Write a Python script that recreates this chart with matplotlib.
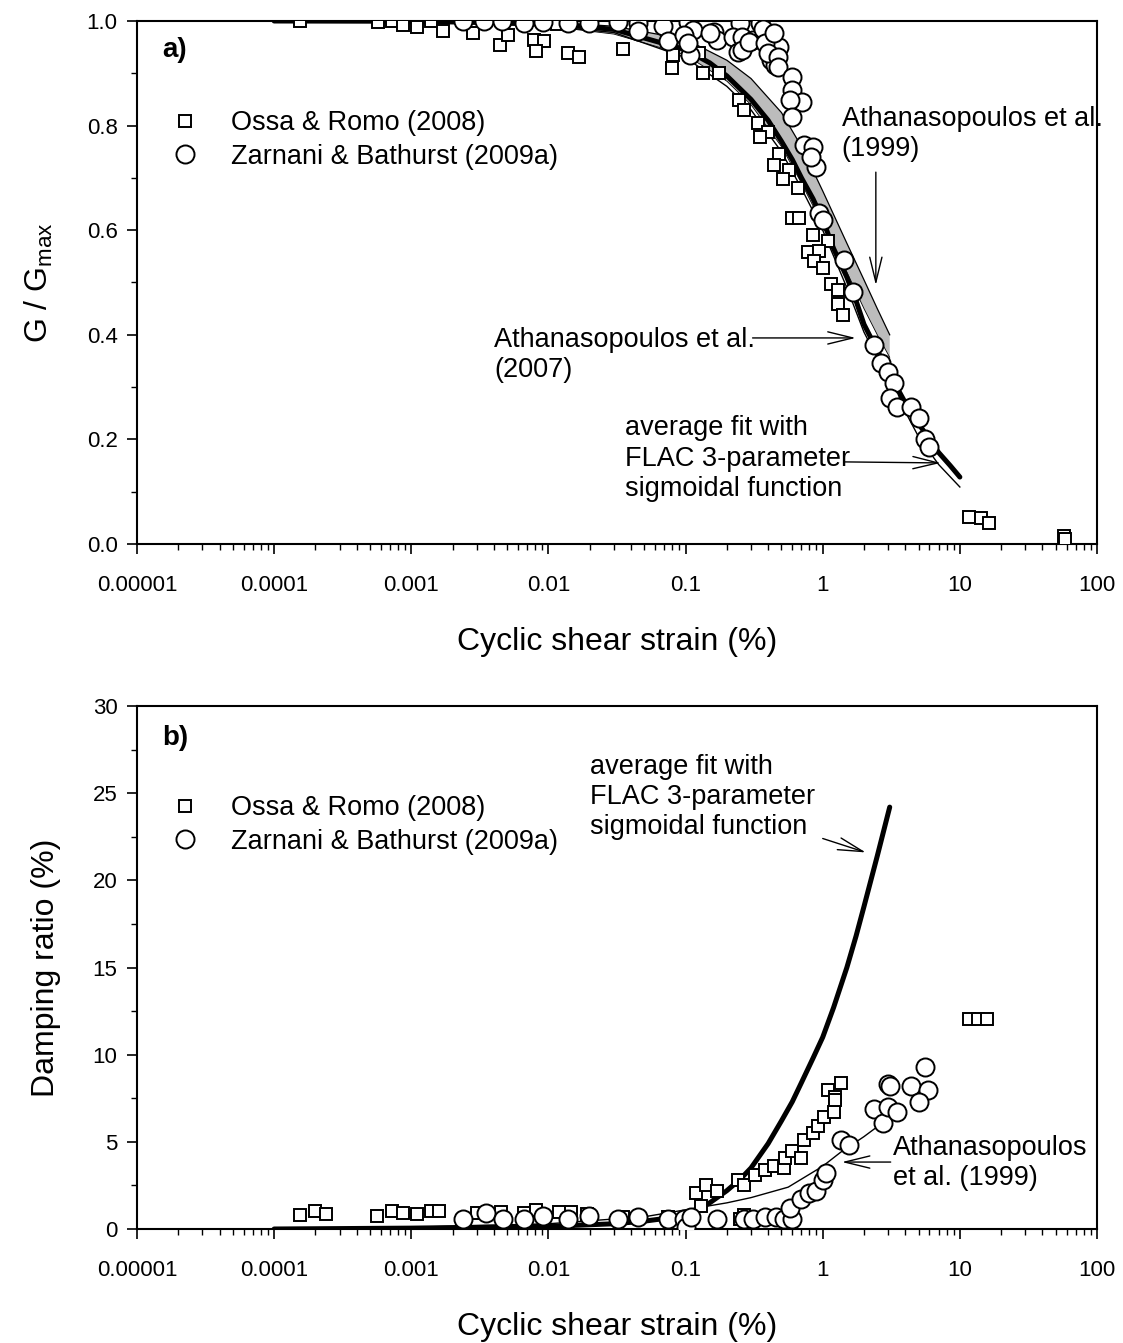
import numpy as np
import matplotlib
matplotlib.use('Agg')
import matplotlib.pyplot as plt
from matplotlib.ticker import LogLocator, FixedLocator, FixedFormatter, MultipleLocator, NullFormatter
from matplotlib.lines import Line2D

plt.rcParams['font.family'] = ['Liberation Sans', 'DejaVu Sans']

# ---------------- G / Gmax data ----------------
# Ossa & Romo (2008)
ossa_g_strain = [0.000155, 0.00057, 0.00072, 0.00087, 0.0011, 0.0014, 0.0017, 0.0028,
                 0.0044, 0.0051, 0.0078, 0.0093, 0.0081, 0.0115, 0.0138, 0.0166, 0.035,
                 0.081, 0.080, 0.133, 0.174, 0.125, 0.244, 0.265, 0.336, 0.40, 0.35,
                 0.48, 0.44, 0.565, 0.51, 0.66, 0.60, 0.67, 0.85, 1.1, 0.78, 0.94,
                 0.87, 1.0, 1.14, 1.29, 1.29, 1.4, 11.6, 14.2, 16.3, 57.6, 58.5]
ossa_g = [1.0, 0.998, 1.0, 0.992, 0.988, 1.0, 0.98, 0.977,
          0.954, 0.973, 0.964, 0.961, 0.943, 0.994, 0.939, 0.931, 0.946,
          0.935, 0.91, 0.90, 0.90, 0.939, 0.849, 0.83, 0.805, 0.788, 0.778,
          0.746, 0.725, 0.715, 0.698, 0.68, 0.623, 0.623, 0.59, 0.58, 0.558, 0.56,
          0.541, 0.528, 0.497, 0.486, 0.459, 0.438, 0.052, 0.05, 0.04, 0.015, 0.01]

# Zarnani & Bathurst (2009a)
zb_g_strain = [0.0024, 0.0034, 0.0046, 0.0066, 0.0092, 0.014, 0.0196, 0.032, 0.045,
               0.045, 0.068, 0.075, 0.105, 0.113, 0.097, 0.108, 0.105, 0.16, 0.17,
               0.15, 0.25, 0.35, 0.22, 0.26, 0.31, 0.24, 0.26, 0.29, 0.42, 0.48,
               0.42, 0.45, 0.37, 0.38, 0.44, 0.40, 0.47, 0.47, 0.60, 0.60, 0.71,
               0.58, 0.60, 0.73, 0.85, 0.90, 0.82, 0.94, 1.0, 1.42, 1.66, 2.36,
               2.65, 2.98, 3.3, 3.07, 3.47, 4.39, 5.0, 5.56, 5.94]
zb_g = [1.0, 1.0, 1.0, 0.996, 0.998, 0.996, 0.996, 0.998, 0.996,
        0.98, 0.99, 0.962, 0.998, 0.983, 0.973, 0.935, 0.958, 0.979, 0.964,
        0.977, 0.996, 0.996, 0.97, 0.97, 0.964, 0.94, 0.945, 0.96, 0.954, 0.95,
        0.925, 0.916, 0.985, 0.958, 0.977, 0.939, 0.931, 0.912, 0.893, 0.868, 0.845,
        0.849, 0.816, 0.763, 0.759, 0.721, 0.74, 0.633, 0.62, 0.543, 0.482, 0.38,
        0.346, 0.329, 0.308, 0.279, 0.262, 0.262, 0.241, 0.201, 0.186]

# curves: average FLAC fit, Athanasopoulos et al. (2007) and (1999) range
fit_g_strain = [0.0001, 0.001, 0.01, 0.03, 0.1, 0.15, 0.2, 0.3, 0.4, 0.5, 0.6, 0.7, 0.85,
                1.0, 1.2, 1.5, 1.75, 2.0, 2.5, 3.0, 4.0, 5.0, 7.0, 8.5, 10.0]
fit_g = [1.0, 0.9995, 0.995, 0.984, 0.945, 0.92, 0.895, 0.85, 0.81, 0.77, 0.735, 0.70, 0.66,
         0.62, 0.565, 0.51, 0.465, 0.42, 0.37, 0.33, 0.27, 0.23, 0.175, 0.15, 0.128]

ath07_strain = [0.0001, 0.001, 0.01, 0.03, 0.1, 0.2, 0.3, 0.5, 0.7, 1.0, 1.5, 2.0, 3.0, 5.0, 7.0, 10.0]
ath07_g = [1.0, 0.999, 0.99, 0.978, 0.93, 0.875, 0.83, 0.75, 0.68, 0.60, 0.49, 0.405, 0.315, 0.205, 0.152, 0.109]

ath99_strain = [0.0001, 0.001, 0.01, 0.03, 0.1, 0.2, 0.3, 0.5, 0.7, 1.0, 1.5, 2.0, 2.5, 3.08]
ath99_upper = [1.0, 1.0, 0.998, 0.99, 0.965, 0.925, 0.89, 0.825, 0.76, 0.675, 0.575, 0.505, 0.45, 0.40]
ath99_lower = [1.0, 0.999, 0.99, 0.975, 0.935, 0.885, 0.84, 0.76, 0.69, 0.61, 0.52, 0.45, 0.40, 0.357]

# ---------------- damping data ----------------
ossa_d_strain = [0.000155, 0.0002, 0.00024, 0.00056, 0.00072, 0.00087, 0.0011, 0.0014, 0.0016,
                 0.0030, 0.0045, 0.0066, 0.0081, 0.012, 0.0146, 0.019, 0.035, 0.075,
                 0.12, 0.14, 0.17, 0.13, 0.24, 0.265, 0.265, 0.25, 0.32, 0.38, 0.44,
                 0.52, 0.53, 0.60, 0.70, 0.73, 0.85, 0.93, 1.02, 1.2, 1.1, 1.23, 1.23,
                 1.35, 11.6, 13.5, 15.8]
ossa_d = [0.8, 1.03, 0.86, 0.75, 1.03, 0.92, 0.86, 1.03, 1.03,
          0.9, 1.0, 0.9, 1.1, 1.0, 1.0, 0.86, 0.7, 0.7,
          2.07, 2.5, 2.2, 1.3, 2.8, 2.5, 0.8, 0.6, 3.1, 3.4, 3.6,
          3.5, 4.1, 4.5, 4.1, 5.1, 5.5, 5.9, 6.4, 6.7, 8.0, 7.6, 7.4,
          8.4, 12.05, 12.05, 12.05]

zb_d_strain = [0.0024, 0.0035, 0.0047, 0.0066, 0.0092, 0.014, 0.0196, 0.032, 0.045,
               0.075, 0.097, 0.10, 0.11, 0.17, 0.265, 0.31, 0.38, 0.46, 0.52, 0.60,
               0.58, 0.70, 0.80, 0.90, 1.0, 1.05, 1.35, 1.55, 2.36, 2.75, 3.0,
               3.0, 3.5, 3.1, 4.4, 5.9, 5.0, 5.6]
zb_d = [0.6, 0.9, 0.6, 0.6, 0.75, 0.6, 0.75, 0.6, 0.7,
        0.6, 0.6, 0.1, 0.7, 0.6, 0.6, 0.6, 0.7, 0.7, 0.6, 0.6,
        1.2, 1.7, 2.07, 2.2, 2.8, 3.2, 5.1, 4.8, 6.9, 6.1, 8.3,
        7.0, 6.7, 8.2, 8.2, 8.0, 7.3, 9.3]

fit_d_strain = [0.0001, 0.001, 0.01, 0.03, 0.05, 0.07, 0.1, 0.15, 0.2, 0.25, 0.3, 0.4, 0.5,
                0.6, 0.7, 0.85, 1.0, 1.2, 1.5, 1.75, 2.0, 2.5, 3.08]
fit_d = [0.0, 0.05, 0.15, 0.3, 0.45, 0.6, 0.8, 1.5, 2.2, 2.85, 3.5, 4.9, 6.2,
         7.3, 8.4, 9.8, 11.0, 12.7, 15.0, 16.8, 18.5, 21.4, 24.2]

ath99_d_strain = [0.0001, 0.001, 0.01, 0.05, 0.1, 0.2, 0.3, 0.56, 1.0, 1.35, 2.0, 2.74]
ath99_d = [0.05, 0.1, 0.3, 0.7, 1.1, 1.5, 1.8, 2.4, 3.6, 4.4, 5.3, 6.1]

xticks = [1e-5, 1e-4, 1e-3, 1e-2, 1e-1, 1, 10, 100]
xticklabels = ['0.00001', '0.0001', '0.001', '0.01', '0.1', '1', '10', '100']

TXT = 19.5
LS = 1.22


def style_axes(ax):
    ax.set_xscale('log')
    ax.set_xlim(1e-5, 100)
    ax.xaxis.set_major_locator(FixedLocator(xticks))
    ax.xaxis.set_major_formatter(FixedFormatter(xticklabels))
    ax.xaxis.set_minor_locator(LogLocator(base=10, subs=np.arange(2, 10)))
    ax.xaxis.set_minor_formatter(NullFormatter())
    for s in ax.spines.values():
        s.set_linewidth(1.5)
    ax.tick_params(which='major', direction='out', length=7, width=1.2, labelsize=16, pad=7,
                   top=False, right=False)
    ax.tick_params(axis='x', which='major', pad=15)
    ax.tick_params(which='minor', direction='out', length=4, width=1.0, top=False, right=False)
    ax.set_xlabel('Cyclic shear strain (%)', fontsize=23, labelpad=23)


def add_legend(ax):
    handles = [Line2D([], [], ls='none', marker='s', ms=9, mfc='white', mec='black', mew=1.4),
               Line2D([], [], ls='none', marker='o', ms=13, mfc='white', mec='black', mew=1.4)]
    ax.legend(handles, ['Ossa & Romo (2008)', 'Zarnani & Bathurst (2009a)'],
              loc='upper left', bbox_to_anchor=(0.01, 0.85), frameon=False,
              fontsize=TXT, handletextpad=0.7, labelspacing=0.28, borderaxespad=0)


arrow = dict(arrowstyle='->,head_length=0.9,head_width=0.22', lw=1.0, color='black',
             mutation_scale=20, shrinkA=0, shrinkB=0)

fig = plt.figure(figsize=(11.23, 13.43), dpi=100)

# ---------- a) modulus reduction ----------
ax1 = fig.add_axes([137 / 1123, 1 - 544 / 1343, 960 / 1123, 523 / 1343])
style_axes(ax1)
ax1.set_ylim(0, 1.0)
ax1.yaxis.set_major_locator(MultipleLocator(0.2))
ax1.yaxis.set_minor_locator(MultipleLocator(0.1))
ax1.yaxis.set_major_formatter(plt.FormatStrFormatter('%.1f'))
ax1.set_ylabel('G / G$_{\\mathregular{max}}$', fontsize=23, labelpad=23)

ax1.fill_between(ath99_strain, ath99_lower, ath99_upper, facecolor='#bcbcbc',
                 edgecolor='none', zorder=1)
ax1.plot(ath99_strain, ath99_upper, color='black', lw=0.9, zorder=2)
ax1.plot(ath99_strain, ath99_lower, color='black', lw=0.6, zorder=2)
ax1.plot(ath07_strain, ath07_g, color='black', lw=1.0, zorder=2)
ax1.plot(fit_g_strain, fit_g, color='black', lw=3.6, solid_capstyle='round', zorder=3)

ax1.plot(ossa_g_strain, ossa_g, ls='none', marker='s', ms=9, mfc='white', mec='black', mew=1.4, zorder=4)
ax1.plot(zb_g_strain, zb_g, ls='none', marker='o', ms=13, mfc='white', mec='black', mew=1.4, zorder=5)

add_legend(ax1)
ax1.text(0.026, 0.945, 'a)', transform=ax1.transAxes, fontsize=20, fontweight='bold', va='center')

ax1.text(0.734, 0.784, 'Athanasopoulos et al.\n(1999)', transform=ax1.transAxes,
         fontsize=TXT, va='center', linespacing=LS)
ax1.annotate('', xy=(2.44, 0.495), xytext=(2.44, 0.711), arrowprops=arrow)

ax1.text(0.372, 0.361, 'Athanasopoulos et al.\n(2007)', transform=ax1.transAxes,
         fontsize=TXT, va='center', linespacing=LS)
ax1.annotate('', xy=(1.74, 0.394), xytext=(0.308, 0.394), arrowprops=arrow)

ax1.text(0.508, 0.163, 'average fit with\nFLAC 3-parameter\nsigmoidal function',
         transform=ax1.transAxes, fontsize=TXT, va='center', linespacing=LS)
ax1.annotate('', xy=(7.26, 0.155), xytext=(1.42, 0.157), arrowprops=arrow)

# ---------- b) damping ----------
ax2 = fig.add_axes([137 / 1123, 1 - 1229 / 1343, 960 / 1123, 523 / 1343])
style_axes(ax2)
ax2.set_ylim(0, 30)
ax2.yaxis.set_major_locator(MultipleLocator(5))
ax2.yaxis.set_minor_locator(MultipleLocator(2.5))
ax2.set_ylabel('Damping ratio (%)', fontsize=23, labelpad=23)

ax2.plot(ath99_d_strain, ath99_d, color='black', lw=1.0, zorder=2)
ax2.plot(fit_d_strain, fit_d, color='black', lw=3.6, solid_capstyle='round', zorder=3)
ax2.plot(ossa_d_strain, ossa_d, ls='none', marker='s', ms=9, mfc='white', mec='black', mew=1.4, zorder=4)
ax2.plot(zb_d_strain, zb_d, ls='none', marker='o', ms=13, mfc='white', mec='black', mew=1.4, zorder=5)

add_legend(ax2)
ax2.text(0.026, 0.939, 'b)', transform=ax2.transAxes, fontsize=20, fontweight='bold', va='center')

ax2.text(0.472, 0.826, 'average fit with\nFLAC 3-parameter\nsigmoidal function',
         transform=ax2.transAxes, fontsize=TXT, va='center', linespacing=LS)
ax2.annotate('', xy=(2.06, 21.6), xytext=(1.0, 22.4), arrowprops=arrow)

ax2.text(0.7875, 0.126, 'Athanasopoulos\net al. (1999)', transform=ax2.transAxes,
         fontsize=TXT, va='center', ha='left', linespacing=LS)
ax2.annotate('', xy=(1.38, 3.84), xytext=(3.13, 3.84), arrowprops=arrow)

fig.savefig('out.png', dpi=100)
